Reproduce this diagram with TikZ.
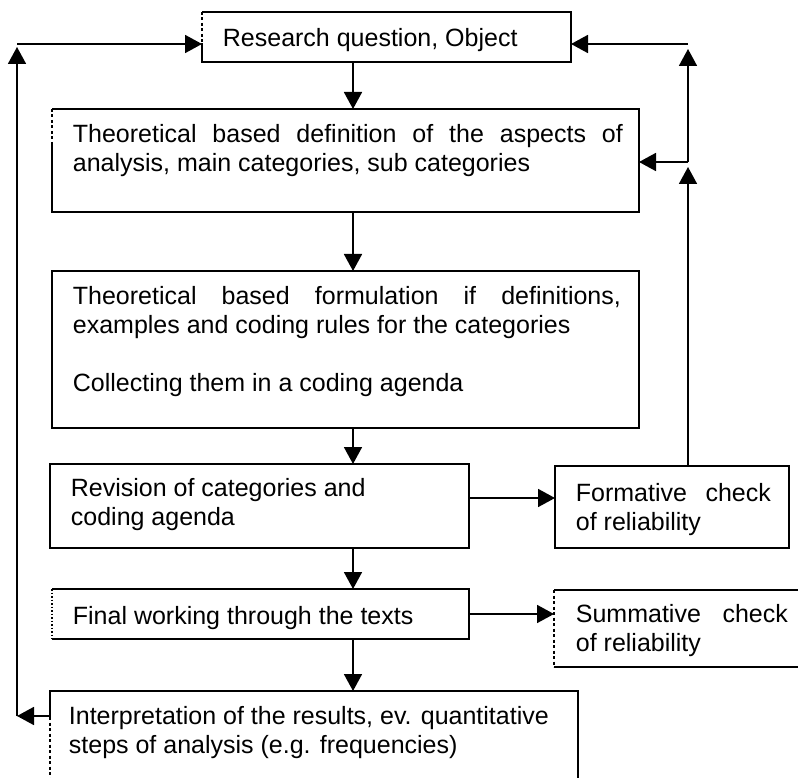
\documentclass[tikz,border=0pt]{standalone}
\usepackage{fontspec}
\setmainfont{Liberation Sans}
\usetikzlibrary{arrows.meta}
\begin{document}
\begin{tikzpicture}[x=1pt,y=-1pt, line width=1.8pt,
  box/.style={draw, inner sep=0pt, outer sep=0pt, anchor=north west},
  openbox/.style={draw=none, inner sep=0pt, outer sep=0pt, anchor=north west},
  txt/.style={inner sep=0pt, anchor=north west, align=left, font=\fontsize{25}{29}\selectfont, text=black},
  arr/.style={-{Triangle[length=17pt,width=18pt]}},
  lft/.style={dash pattern=on 3pt off 2.5pt},
  dotedge/.style={dash pattern=on 1.5pt off 2pt}]
\useasboundingbox (0,0) rectangle (798,778);
% boxes
\node[openbox, minimum width=369pt, minimum height=50pt] (b1) at (202,12) {};
\node[openbox, minimum width=587pt, minimum height=103pt] (b2) at (52,109) {};
\node[box, minimum width=587pt, minimum height=157pt] (b3) at (52,271) {};
\node[box, minimum width=419pt, minimum height=84pt] (b4) at (50,464) {};
\node[box, minimum width=234pt, minimum height=82pt] (f) at (555,466) {};
\node[openbox, minimum width=417pt, minimum height=50pt] (b5) at (52,589) {};
\node[openbox, minimum width=260pt, minimum height=77pt] (s) at (554,590) {};
\node[openbox, minimum width=528pt, minimum height=100pt] (b6) at (50,691) {};
% box outlines with broken left edges
\draw (b1.north west) -- (b1.north east) -- (b1.south east) -- (b1.south west) -- ++(0,-19);
\draw[lft] (b1.north west) -- ++(0,31);
\draw (b2.north west) -- (b2.north east) -- (b2.south east) -- (b2.south west) -- ++(0,-67);
\draw[lft] (b2.north west) -- ++(0,36);
\draw (b5.south west) -- (b5.south east) -- (b5.north east) -- (b5.north west);
\draw[dotedge] (b5.north west) -- (b5.south west);
\draw (s.north east) -- (s.north west);
\draw (s.south west) -- (s.south east);
\draw[lft] (s.north west) -- (s.south west);
\draw (b6.south east) -- (b6.north east) -- (b6.north west) -- ++(0,26);
\draw[lft] (b6.north west) ++(0,26) -- (b6.south west);
% texts
\node[txt] (t1) at (222,27) {Research question, Object};
\node[txt] (t2) at (72,123) {\makebox[550pt][s]{Theoretical based definition of the aspects of}\\analysis, main categories, sub categories};
\node[txt] (t3) at (72,285) {\makebox[548pt][s]{Theoretical based formulation if definitions,}\\examples and coding rules for the categories\\[29pt]Collecting them in a coding agenda};
\node[txt] (t4) at (70,477) {Revision of categories and\\coding agenda};
\node[txt] (t5) at (575,482) {\makebox[195pt][s]{Formative check}\\of reliability};
\node[txt] (t6) at (72,605) {Final working through the texts};
\node[txt] (t7) at (575,603) {\makebox[212pt][s]{Summative check}\\of reliability};
\node[txt] (t8) at (68,705) {Interpretation of the results, ev. quantitative\\steps of analysis (e.g. frequencies)};
% main flow
\coordinate (ax) at (353,0);
\draw[arr] (b1.south -| ax) -- (b2.north -| ax);
\draw[arr] (b2.south -| ax) -- (b3.north -| ax);
\draw[arr] (b3.south -| ax) -- (b4.north -| ax);
\draw[arr] (b4.south -| ax) -- (b5.north -| ax);
\draw[arr] (b5.south -| ax) -- (b6.north -| ax);
% side arrows
\coordinate (y1) at (0,498);
\draw[arr] (b4.east |- y1) -- (f.west |- y1);
\draw[arr] (b5.east) -- (b5.east -| s.west);
% left loop
\coordinate (L1) at (17,716);
\coordinate (L2) at (17,44);
\draw[arr] (L1 -| b6.west) -- (L1);
\draw[arr, shorten >=3pt] (L1) -- (L2);
\draw[arr] (L2) -- (L2 -| b1.west);
% right loop
\coordinate (R1) at (688,162);
\coordinate (R2) at (688,44);
\draw[arr, shorten >=5pt] (f.north -| R1) -- (R1);
\draw[arr] (R1) -- (R1 -| b2.east);
\draw[arr, shorten >=5pt] (R1) -- (R2);
\draw[arr] (R2) -- (R2 -| b1.east);
\end{tikzpicture}
\end{document}
